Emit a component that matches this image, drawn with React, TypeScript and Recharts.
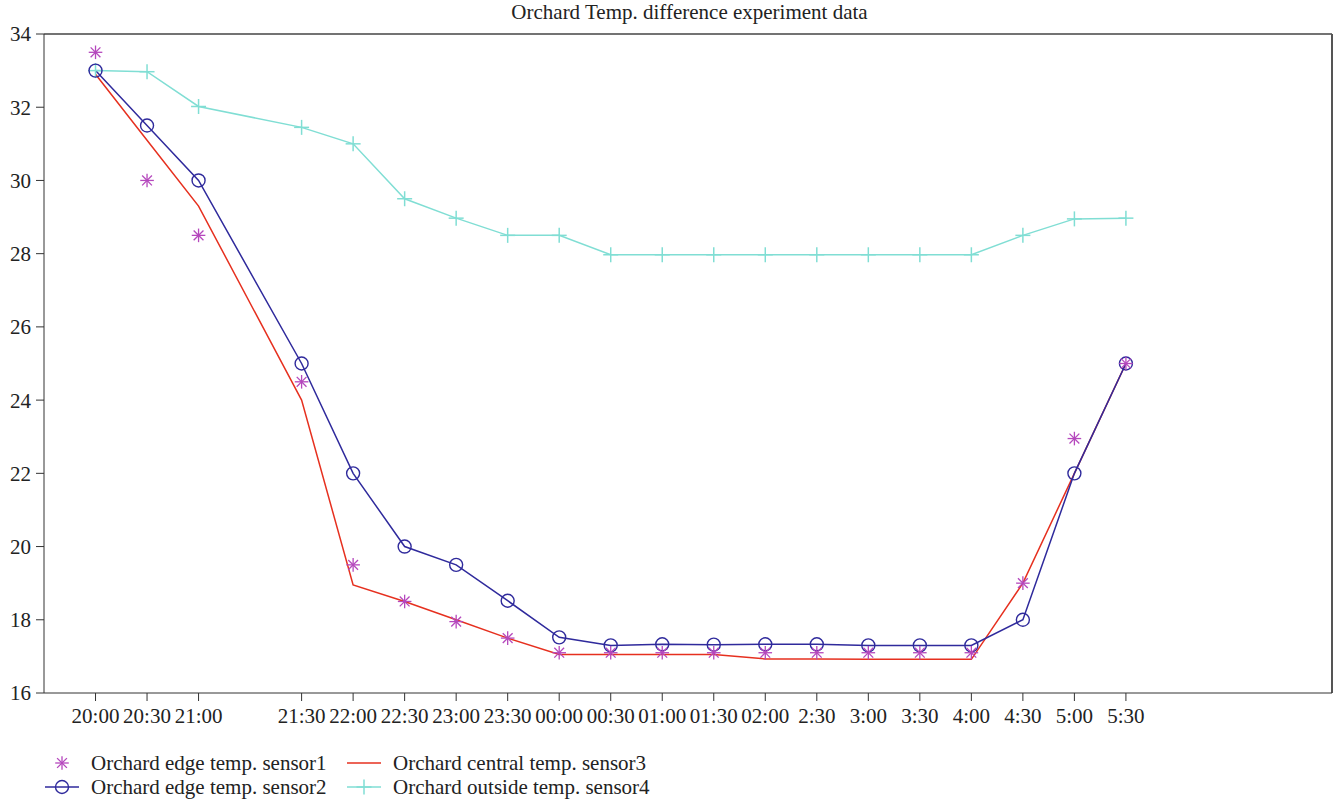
import React from 'react';
import { LineChart, Line, XAxis, YAxis, ReferenceLine } from 'recharts';

// time labels and their slot on the x axis (21:30 sits two slots after 21:00)
const timeLabels = [
  '20:00', '20:30', '21:00', '21:30', '22:00', '22:30', '23:00', '23:30', '00:00', '00:30',
  '01:00', '01:30', '02:00', '2:30', '3:00', '3:30', '4:00', '4:30', '5:00', '5:30',
];
const slots = [1, 2, 3, 5, 6, 7, 8, 9, 10, 11, 12, 13, 14, 15, 16, 17, 18, 19, 20, 21];

const sensor1 = [33.5, 30, 28.5, 24.5, 19.5, 18.5, 17.95, 17.5, 17.1, 17.1, 17.1, 17.1, 17.1, 17.1, 17.1, 17.1, 17.1, 19, 22.95, 25];
const sensor2 = [33, 31.5, 30, 25, 22, 20, 19.5, 18.52, 17.52, 17.3, 17.33, 17.32, 17.33, 17.33, 17.3, 17.3, 17.3, 18, 22, 25];
const sensor3 = [32.9, 31.1, 29.3, 24.0, 18.95, 18.5, 18.0, 17.5, 17.05, 17.05, 17.05, 17.05, 16.93, 16.93, 16.92, 16.92, 16.92, 19, 22, 25];
const sensor4 = [33, 32.97, 32.02, 31.45, 31, 29.5, 28.97, 28.5, 28.5, 27.97, 27.97, 27.97, 27.97, 27.97, 27.97, 27.97, 27.97, 28.5, 28.95, 28.97];

const yTicks = [16, 18, 20, 22, 24, 26, 28, 30, 32, 34];

const C_STAR = '#b548bd';
const C_CIRCLE = '#2f2a9c';
const C_RED = '#e6301f';
const C_CYAN = '#80ded4';
const FONT = '"Liberation Serif", "DejaVu Serif", serif';
const FS = 21;

const data = slots.map((x, i) => ({
  x,
  s1: sensor1[i],
  s2: sensor2[i],
  s3: sensor3[i],
  s4: sensor4[i],
}));

const labelBySlot: Record<number, string> = {};
slots.forEach((s, i) => (labelBySlot[s] = timeLabels[i]));

// recharts hands its own r to custom dots, so the marker sizes are fixed here
const STAR_R = 6.8;

function Star({ cx, cy }: any) {
  if (cx == null || cy == null) return null;
  const r = STAR_R;
  const d = r * 0.72;
  return (
    <g stroke={C_STAR} strokeWidth={1.3}>
      <line x1={cx} y1={cy - r} x2={cx} y2={cy + r} />
      <line x1={cx - r} y1={cy} x2={cx + r} y2={cy} />
      <line x1={cx - d} y1={cy - d} x2={cx + d} y2={cy + d} />
      <line x1={cx - d} y1={cy + d} x2={cx + d} y2={cy - d} />
    </g>
  );
}

function Ring({ cx, cy }: any) {
  if (cx == null || cy == null) return null;
  return <circle cx={cx} cy={cy} r={6.5} fill="none" stroke={C_CIRCLE} strokeWidth={1.4} />;
}

function Plus({ cx, cy }: any) {
  if (cx == null || cy == null) return null;
  return (
    <g stroke={C_CYAN} strokeWidth={1.5}>
      <line x1={cx - 7.5} y1={cy} x2={cx + 7.5} y2={cy} />
      <line x1={cx} y1={cy - 7.5} x2={cx} y2={cy + 7.5} />
    </g>
  );
}

function LegendRow({ x, y, icon, label }: any) {
  return (
    <div style={{ position: 'absolute', left: x, top: y, display: 'flex', alignItems: 'center', height: 24 }}>
      <svg width={36} height={22} style={{ marginRight: 11 }}>
        {icon}
      </svg>
      <span style={{ fontFamily: FONT, fontSize: FS, color: '#222', whiteSpace: 'nowrap' }}>{label}</span>
    </div>
  );
}

export default function App() {
  return (
    <div style={{ position: 'absolute', left: 0, top: 0, width: 1335, height: 804, background: '#fff' }}>
      <LineChart
        width={1335}
        height={804}
        data={data}
        margin={{ top: 34, right: 3, bottom: 81, left: 4 }}
        style={{ position: 'absolute', left: 0, top: 0 }}
      >
        <XAxis
          dataKey="x"
          type="number"
          domain={[0, 25]}
          ticks={slots}
          tickFormatter={(v: number) => labelBySlot[v] ?? ''}
          interval={0}
          height={30}
          tickSize={8}
          tickMargin={7}
          stroke="#333"
          tick={{ fill: '#222', fontFamily: FONT, fontSize: FS }}
        />
        <YAxis
          type="number"
          domain={[16, 34]}
          ticks={yTicks}
          width={40}
          tickSize={8}
          tickMargin={5}
          stroke="#333"
          tick={{ fill: '#222', fontFamily: FONT, fontSize: FS }}
        />
        <ReferenceLine y={34} stroke="#444" strokeWidth={1.5} />
        <ReferenceLine x={25} stroke="#555" strokeWidth={2} />
        <Line
          dataKey="s4"
          stroke={C_CYAN}
          strokeWidth={1.5}
          dot={<Plus />}
          activeDot={false}
          isAnimationActive={false}
        />
        <Line
          dataKey="s3"
          stroke={C_RED}
          strokeWidth={1.5}
          dot={false}
          activeDot={false}
          isAnimationActive={false}
        />
        <Line
          dataKey="s2"
          stroke={C_CIRCLE}
          strokeWidth={1.5}
          dot={<Ring />}
          activeDot={false}
          isAnimationActive={false}
        />
        <Line
          dataKey="s1"
          stroke="none"
          dot={<Star />}
          activeDot={false}
          isAnimationActive={false}
        />
      </LineChart>

      <div
        style={{
          position: 'absolute',
          left: 22,
          width: 1335,
          top: 0,
          textAlign: 'center',
          fontFamily: FONT,
          fontSize: FS,
          color: '#222',
        }}
      >
        Orchard Temp. difference experiment data
      </div>

      <LegendRow x={44} y={751} icon={<Star cx={18} cy={11} />} label="Orchard edge temp. sensor1" />
      <LegendRow
        x={44}
        y={775}
        icon={
          <g>
            <line x1={1} y1={11} x2={35} y2={11} stroke={C_CIRCLE} strokeWidth={1.5} />
            <Ring cx={18} cy={11} />
          </g>
        }
        label="Orchard edge temp. sensor2"
      />
      <LegendRow
        x={346}
        y={751}
        icon={<line x1={1} y1={11} x2={35} y2={11} stroke={C_RED} strokeWidth={1.5} />}
        label="Orchard central temp. sensor3"
      />
      <LegendRow
        x={346}
        y={775}
        icon={
          <g>
            <line x1={1} y1={11} x2={35} y2={11} stroke={C_CYAN} strokeWidth={1.5} />
            <Plus cx={18} cy={11} />
          </g>
        }
        label="Orchard outside temp. sensor4"
      />
    </div>
  );
}
